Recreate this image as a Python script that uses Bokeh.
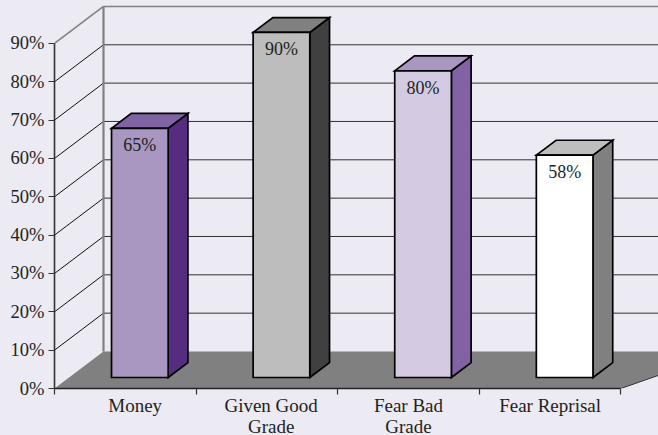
from bokeh.plotting import figure
from bokeh.models import FixedTicker, Range1d
from bokeh.core.properties import value
from bokeh.embed import file_html
from bokeh.resources import INLINE

categories = ["Money", "Given Good\nGrade", "Fear Bad\nGrade", "Fear Reprisal"]
label_positions = [0.57, 1.53, 2.5, 3.5]
values = [65, 90, 80, 58]
value_labels = ["65%", "90%", "80%", "58%"]
y_ticks = [0, 10, 20, 30, 40, 50, 60, 70, 80, 90]
y_tick_labels = ["0%", "10%", "20%", "30%", "40%", "50%", "60%", "70%", "80%", "90%"]
front_colors = ["#A997C1", "#BDBDBD", "#D4CBE2", "#FFFFFF"]
top_colors = ["#8062A5", "#808080", "#A997C1", "#BEBEBE"]
side_colors = ["#562C80", "#404040", "#8062A5", "#808080"]

BG = "#ECEAF2"
FONT = "Liberation Serif"
INK = "#231F20"

# oblique projection: depth 0..1 shifts a point right and up
DX, DY = 0.346, 9.65
BAR_W = 0.4
Z0, Z1 = 0.297, 0.70
N = len(categories)
X_END = 4.2655
Y_END = 101.2
FAR = N + 0.4


def px(x, z):
    return x + z * DX


def py(v, z):
    return v + z * DY


p = figure(width=658, height=435, output_backend="svg", toolbar_location=None,
           x_range=Range1d(0, X_END), y_range=Range1d(0, Y_END),
           min_border_left=54, min_border_right=0, min_border_top=0, min_border_bottom=47,
           background_fill_color=BG, border_fill_color=BG, outline_line_color=None)
p.frame_width = 604
p.frame_height = 388
p.grid.visible = False

top = y_ticks[-1]
# side-wall diagonals and back-wall lines
for t in y_ticks[1:]:
    gray = t == top
    p.line([px(0, 0), px(0, 1)], [py(t, 0), py(t, 1)],
           line_color="#808080" if gray else "#111111", line_width=1.6 if gray else 1)
    p.line([px(0, 1), px(FAR, 1)], [py(t, 1), py(t, 1)],
           line_color="#808080" if gray else "#333333", line_width=1.6 if gray else 1)
p.line([px(0, 1), px(0, 1)], [py(0, 1), py(top, 1)], line_color="#808080", line_width=2.2)

# floor
p.patch([px(0, 0), px(0, 1), px(FAR, 1), px(N, 0)], [py(0, 0), py(0, 1), py(0, 1), py(0, 0)],
        fill_color="#808080", line_color=None)
p.line([px(N, 0), px(FAR, 1)], [py(0, 0), py(0, 1)], line_color="#333333", line_width=1)

# bars
for i, v in enumerate(values):
    x0, x1 = i + 0.5 - BAR_W / 2, i + 0.5 + BAR_W / 2
    kw = dict(line_color="#000000", line_width=1.7, line_join="miter")
    p.patch([px(x1, Z0), px(x1, Z1), px(x1, Z1), px(x1, Z0)],
            [py(0, Z0), py(0, Z1), py(v, Z1), py(v, Z0)], fill_color=side_colors[i], **kw)
    p.patch([px(x0, Z0), px(x1, Z0), px(x1, Z1), px(x0, Z1)],
            [py(v, Z0), py(v, Z0), py(v, Z1), py(v, Z1)], fill_color=top_colors[i], **kw)
    p.patch([px(x0, Z0), px(x1, Z0), px(x1, Z0), px(x0, Z0)],
            [py(0, Z0), py(0, Z0), py(v, Z0), py(v, Z0)], fill_color=front_colors[i], **kw)
    p.text([px(i + 0.5, Z0)], [py(v, Z0)], text=[value_labels[i]], text_align="center",
           text_baseline="middle", y_offset=17, text_font=value(FONT), text_font_size="18px",
           text_color=INK)

# axes
ax = p.xaxis[0]
ax.bounds = (0, N)
ax.ticker = FixedTicker(ticks=label_positions, minor_ticks=list(range(N + 1)))
ax.major_label_overrides = {x: c for x, c in zip(label_positions, categories)}
ax.major_tick_line_color = None
ax.major_tick_out = 0
ax.major_tick_in = 0
ax.minor_tick_out = 6
ax.minor_tick_in = 0
ax.minor_tick_line_color = "#333333"
ax.minor_tick_line_width = 1.2
ax.axis_line_color = "#222222"
ax.axis_line_width = 1.4
ax.major_label_standoff = 0
ax.major_label_text_font = FONT
ax.major_label_text_font_size = "19px"
ax.major_label_text_line_height = 1.0
ax.major_label_text_color = INK
ax.major_label_orientation = "horizontal"

ay = p.yaxis[0]
ay.bounds = (0, top)
ay.ticker = FixedTicker(ticks=y_ticks)
ay.major_label_overrides = {t: s for t, s in zip(y_ticks, y_tick_labels)}
ay.minor_tick_line_color = None
ay.major_tick_out = 6
ay.major_tick_in = 0
ay.major_tick_line_color = "#333333"
ay.major_tick_line_width = 1.2
ay.axis_line_color = "#333333"
ay.axis_line_width = 1.6
ay.major_label_standoff = 4
ay.major_label_text_font = FONT
ay.major_label_text_font_size = "18.5px"
ay.major_label_text_color = INK

template = """{% block postamble %}<style>html,body{margin:0;padding:0;background:#ECEAF2;overflow:hidden}</style>{% endblock %}
"""
open("out.html", "w").write(file_html(p, INLINE, template=template))
